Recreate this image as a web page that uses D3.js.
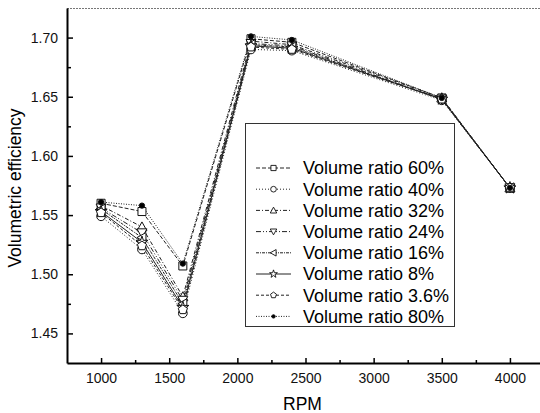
<!DOCTYPE html>
<html>
<head>
<meta charset="utf-8">
<script src="https://cdn.jsdelivr.net/npm/d3@7"></script>
<style>
  body { margin: 0; background: #fff; }
  svg { display: block; font-family: "Liberation Sans", Arial, sans-serif; }
</style>
</head>
<body>
<script>
// RPM sampled in the test
const rpm = [1000, 1300, 1600, 2100, 2400, 3500, 4000];

// volumetric efficiency per volume ratio
const ratio60 = [1.560, 1.553, 1.507, 1.699, 1.696, 1.649, 1.573];
const ratio40 = [1.549, 1.521, 1.467, 1.690, 1.689, 1.647, 1.573];
const ratio32 = [1.558, 1.540, 1.481, 1.697, 1.694, 1.649, 1.573];
const ratio24 = [1.556, 1.535, 1.478, 1.695, 1.693, 1.648, 1.573];
const ratio16 = [1.555, 1.531, 1.475, 1.694, 1.692, 1.648, 1.573];
const ratio8 = [1.553, 1.527, 1.472, 1.693, 1.691, 1.648, 1.573];
const ratio3_6 = [1.552, 1.524, 1.470, 1.692, 1.690, 1.648, 1.573];
const ratio80 = [1.561, 1.558, 1.509, 1.701, 1.698, 1.649, 1.573];

const labels = ['Volume ratio 60%', 'Volume ratio 40%', 'Volume ratio 32%', 'Volume ratio 24%',
    'Volume ratio 16%', 'Volume ratio 8%', 'Volume ratio 3.6%', 'Volume ratio 80%'];

const xTicks = [1000, 1500, 2000, 2500, 3000, 3500, 4000];
const yTicks = [1.45, 1.50, 1.55, 1.60, 1.65, 1.70];

const series = [
    {name: labels[0], values: ratio60, dash: '4,2', marker: 'square'},
    {name: labels[1], values: ratio40, dash: '1,2', marker: 'circle'},
    {name: labels[2], values: ratio32, dash: '4,2,1,2', marker: 'up'},
    {name: labels[3], values: ratio24, dash: '5,2,1,2,1,2', marker: 'down'},
    {name: labels[4], values: ratio16, dash: '3,1,1,1', marker: 'left'},
    {name: labels[5], values: ratio8, dash: null, marker: 'star'},
    {name: labels[6], values: ratio3_6, dash: '3,2', marker: 'pentagon'},
    {name: labels[7], values: ratio80, dash: '1,1.5', marker: 'dot'}
];

const width = 540, height = 413;
const margin = {top: 8, right: -4, bottom: 50, left: 67};

const svg = d3.select('body').append('svg')
    .attr('width', width)
    .attr('height', height);

const x = d3.scaleLinear()
    .domain([750, 4250])
    .range([margin.left, width - margin.right]);

const y = d3.scaleLinear()
    .domain([1.425, 1.725])
    .range([height - margin.bottom, margin.top]);

// dotted top border
svg.append('line')
    .attr('x1', margin.left).attr('x2', width)
    .attr('y1', margin.top + 0.5).attr('y2', margin.top + 0.5)
    .style('stroke', '#777')
    .style('stroke-dasharray', '2,1');

// symbols
function markerPath(type) {
    if (type === 'square') return 'M-4,-4H4V4H-4Z';
    if (type === 'circle') return d3.symbol(d3.symbolCircle, 60)();
    if (type === 'up') return 'M0,-5L5,4H-5Z';
    if (type === 'down') return 'M0,5L5,-4H-5Z';
    if (type === 'left') return 'M-5,0L4,-5V5Z';
    if (type === 'star') return d3.symbol(d3.symbolStar, 45)();
    if (type === 'pentagon') {
        let pts = d3.range(5).map(i => {
            let a = -Math.PI / 2 + i * 2 * Math.PI / 5;
            return [4.8 * Math.cos(a), 4.8 * Math.sin(a)];
        });
        return 'M' + pts.join('L') + 'Z';
    }
    return d3.symbol(d3.symbolCircle, 22)();
}

let line = d3.line()
    .x((d, i) => x(rpm[i]))
    .y(d => y(d));

let plot = svg.append('g');

series.forEach(s => {
    plot.append('path')
        .datum(s.values)
        .attr('d', line)
        .style('fill', 'none')
        .style('stroke', '#222')
        .style('stroke-width', 1)
        .style('stroke-dasharray', s.dash);
});

series.forEach(s => {
    plot.selectAll(null)
        .data(s.values)
        .enter()
        .append('path')
        .attr('transform', (d, i) => 'translate(' + x(rpm[i]) + ',' + y(d) + ')')
        .attr('d', markerPath(s.marker))
        .style('fill', s.marker === 'dot' ? '#000' : '#fff')
        .style('stroke', '#111')
        .style('stroke-width', 1);
});

// axes, ticks pointing inward
svg.append('g')
    .attr('transform', 'translate(0,' + (height - margin.bottom) + ')')
    .call(d3.axisBottom(x).tickValues(xTicks).tickFormat(d3.format('d'))
        .tickSizeInner(-5).tickSizeOuter(0).tickPadding(10));

svg.append('g')
    .attr('transform', 'translate(0,' + (height - margin.bottom) + ')')
    .call(d3.axisBottom(x).tickValues(d3.range(1250, 4250, 500)).tickSize(-3).tickFormat(''))
    .select('.domain').remove();

svg.append('g')
    .attr('transform', 'translate(' + margin.left + ',0)')
    .call(d3.axisLeft(y).tickValues(yTicks).tickFormat(d3.format('.2f'))
        .tickSizeInner(-6).tickSizeOuter(0).tickPadding(9));

svg.append('g')
    .attr('transform', 'translate(' + margin.left + ',0)')
    .call(d3.axisLeft(y).tickValues([1.475, 1.525, 1.575, 1.625, 1.675]).tickSize(-4).tickFormat(''))
    .select('.domain').remove();

svg.selectAll('.domain').style('stroke', '#000').style('stroke-width', 2);
svg.selectAll('.tick line').style('stroke', '#000').style('stroke-width', 1.5);
svg.selectAll('.tick text').style('font-size', '14px').style('fill', '#111')
    .style('font-family', '"Liberation Sans", Arial, sans-serif');

// axis titles
svg.append('text')
    .attr('x', x(2500) - 3)
    .attr('y', 410)
    .attr('text-anchor', 'middle')
    .style('font-size', '17.5px')
    .text('RPM');

svg.append('text')
    .attr('transform', 'translate(21,' + 188 + ') rotate(-90)')
    .attr('text-anchor', 'middle')
    .style('font-size', '17.5px')
    .text('Volumetric efficiency');

// legend
let legend = svg.append('g');
legend.append('rect')
    .attr('x', 245.5).attr('y', 123.5)
    .attr('width', 209).attr('height', 203)
    .style('fill', '#fff')
    .style('stroke', '#333')
    .style('stroke-width', 1);

let rows = legend.selectAll('.row')
    .data(series)
    .enter()
    .append('g')
    .classed('row', true)
    .attr('transform', (d, i) => 'translate(0,' + (168 + i * 21.2) + ')');

rows.append('line')
    .attr('x1', 256).attr('x2', 291)
    .style('stroke', '#222')
    .style('stroke-dasharray', d => d.dash);

rows.append('path')
    .attr('transform', 'translate(273.5,0) scale(0.65)')
    .attr('d', d => markerPath(d.marker))
    .style('fill', d => d.marker === 'dot' ? '#000' : '#fff')
    .style('stroke', '#111')
    .style('stroke-width', 1.4);

rows.append('text')
    .attr('x', 303)
    .attr('dy', '0.35em')
    .style('font-size', '18px')
    .text(d => d.name);
</script>
</body>
</html>
